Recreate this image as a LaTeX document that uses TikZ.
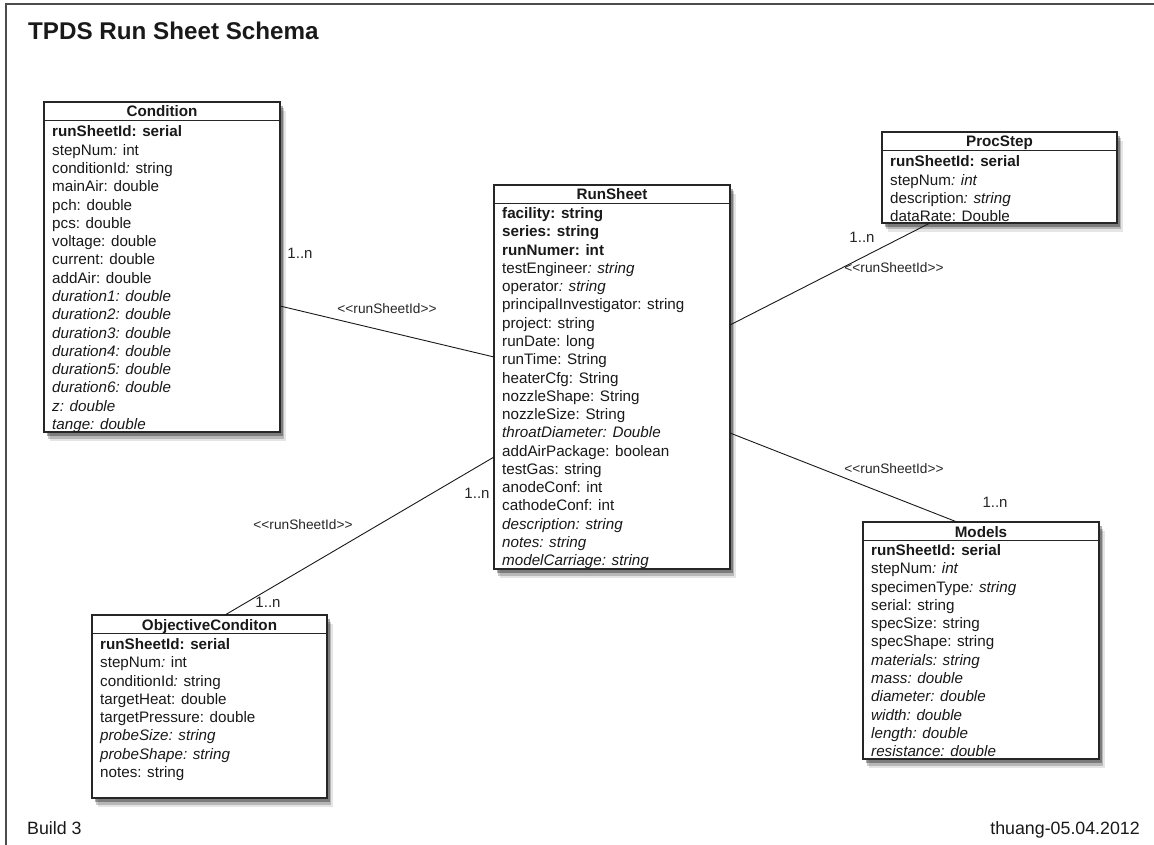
\documentclass[tikz,border=0pt]{standalone}
\usepackage{fontspec}
\newfontfamily\hv{Liberation Sans}
\usetikzlibrary{calc,shadows}
\tikzset{
  entity/.style={draw=black!85,line width=1.4pt,fill=white,anchor=north west,
    inner sep=0pt,outer sep=0pt,
    general shadow={shadow xshift=5.5pt,shadow yshift=-9pt,opacity=.10,fill=black},
    general shadow={shadow xshift=4pt,shadow yshift=-6.5pt,opacity=.2,fill=black},
    general shadow={shadow xshift=2.5pt,shadow yshift=-4pt,opacity=.32,fill=black}},
  headtxt/.style={anchor=base,inner sep=0pt,text=black!90,
    font=\hv\bfseries\fontsize{15.2}{18}\selectfont},
  rowtxt/.style={anchor=base west,inner sep=0pt,text=black!90,
    font=\hv\fontsize{15.2}{18.3}\selectfont},
  divline/.style={draw=black!85,line width=1.3pt},
  conn/.style={draw=black!90,line width=0.9pt},
  reltxt/.style={inner sep=0pt,text=black!85,font=\hv\fontsize{13.7}{16}\selectfont},
  multtxt/.style={inner sep=0pt,text=black!85,font=\hv\fontsize{15}{18}\selectfont},
  framel/.style={draw=black!70,line width=1.5pt},
}
% name, x, y, width, height, title, first baseline offset, rows
\newcommand\umlentity[8]{%
  \node[entity,minimum width=#4,minimum height=#5] (#1) at (#2,#3) {};
  \node[headtxt] (#1-title) at ($(#1.north)+(0,15)$) {#6};
  \draw[divline] ($(#1.north west)+(0,18.5)$) -- ($(#1.north east)+(0,18.5)$);
  \foreach \t [count=\i] in {#8}
    \node[rowtxt] (#1-\i) at ($(#1.north west)+(8,#7+18.28*\i-18.28)$) {\t};
}
\begin{document}
\begin{tikzpicture}[x=1pt,y=-1pt]
\useasboundingbox[fill=white] (0,0) rectangle (1154,845);
% frame
\coordinate (fbl) at (6,845);
\coordinate (ftl) at (6,4);
\coordinate (ftr) at (1154,4);
\draw[framel] (fbl) -- (ftl) -- (ftr);

\node[anchor=base west,inner sep=0pt,text=black!90,font=\hv\bfseries\fontsize{24.2}{29}\selectfont]
  (title) at (28,40) {TPDS Run Sheet Schema};

\umlentity{cond}{44}{102}{236}{330}{Condition}{35}{
  {\textbf{runSheetId: serial}},
  {stepNum\textit{:} int},
  {conditionId\textit{:} string},
  {mainAir: double},
  {pch: double},
  {pcs: double},
  {voltage: double},
  {current: double},
  {addAir: double},
  {\textit{duration1: double}},
  {\textit{duration2: double}},
  {\textit{duration3: double}},
  {\textit{duration4: double}},
  {\textit{duration5: double}},
  {\textit{duration6: double}},
  {\textit{z: double}},
  {\textit{tange: double}}}

\umlentity{run}{494}{185}{236}{384}{RunSheet}{33.5}{
  {\textbf{facility: string}},
  {\textbf{series: string}},
  {\textbf{runNumer: int}},
  {testEngineer\textit{: string}},
  {operator\textit{: string}},
  {principalInvestigator: string},
  {project: string},
  {runDate: long},
  {runTime: String},
  {heaterCfg: String},
  {nozzleShape: String},
  {nozzleSize: String},
  {\textit{throatDiameter: Double}},
  {addAirPackage: boolean},
  {testGas: string},
  {anodeConf: int},
  {cathodeConf: int},
  {\textit{description: string}},
  {\textit{notes: string}},
  {\textit{modelCarriage: string}}}

\umlentity{proc}{882}{132}{235}{91}{ProcStep}{35}{
  {\textbf{runSheetId: serial}},
  {stepNum\textit{: int}},
  {description\textit{: string}},
  {dataRate: Double}}

\umlentity{models}{863}{522}{236}{237}{Models}{33.5}{
  {\textbf{runSheetId: serial}},
  {stepNum\textit{: int}},
  {specimenType\textit{: string}},
  {serial: string},
  {specSize: string},
  {specShape: string},
  {\textit{materials: string}},
  {\textit{mass: double}},
  {\textit{diameter: double}},
  {\textit{width: double}},
  {\textit{length: double}},
  {\textit{resistance: double}}}

\umlentity{obj}{92}{615}{235}{183}{ObjectiveConditon}{34.5}{
  {\textbf{runSheetId: serial}},
  {stepNum\textit{:} int},
  {conditionId\textit{:} string},
  {targetHeat: double},
  {targetPressure: double},
  {\textit{probeSize: string}},
  {\textit{probeShape: string}},
  {notes: string}}

% connectors
\draw[conn] ($(cond.north east)+(0,204)$) -- ($(run.north west)+(0,172)$);
\draw[conn] ($(run.north west)+(0,272)$) -- ($(obj.north west)+(133,0)$);
\draw[conn] ($(run.north east)+(0,140)$) -- ($(proc.south west)+(48,0)$);
\draw[conn] ($(run.north east)+(0,248)$) -- ($(models.north west)+(94,0)$);

% connector labels
\node[multtxt] (m1) at (300,253) {1..n};
\node[reltxt]  (r1) at (387,309) {<<runSheetId>>};
\node[reltxt]  (r2) at (303,525) {<<runSheetId>>};
\node[multtxt] (m2) at (477,493) {1..n};
\node[multtxt] (m3) at (268,602) {1..n};
\node[multtxt] (m4) at (862,237) {1..n};
\node[reltxt]  (r3) at (894,268) {<<runSheetId>>};
\node[reltxt]  (r4) at (894,469) {<<runSheetId>>};
\node[multtxt] (m5) at (995,502) {1..n};

% footer
\node[anchor=base west,inner sep=0pt,text=black!90,font=\hv\fontsize{17.8}{20}\selectfont]
  (build) at (27,834) {Build 3};
\node[anchor=base east,inner sep=0pt,text=black!90,font=\hv\fontsize{17.8}{20}\selectfont]
  (author) at (1140,834) {thuang-05.04.2012};
\end{tikzpicture}
\end{document}
